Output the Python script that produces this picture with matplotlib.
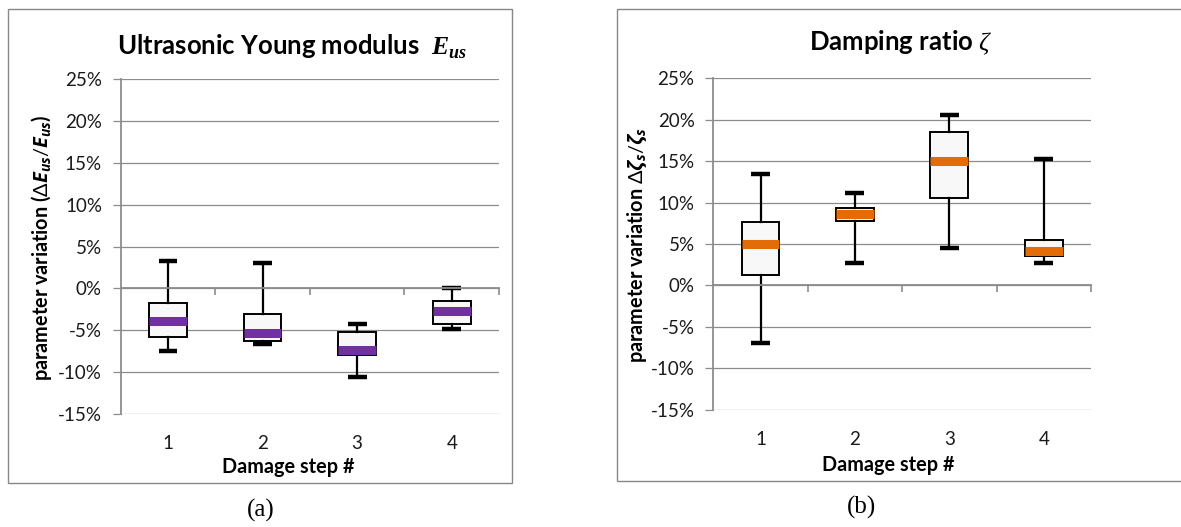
import matplotlib
matplotlib.use("Agg")
import matplotlib.pyplot as plt
from matplotlib.patches import Rectangle
from matplotlib.ticker import FuncFormatter

plt.rcParams['font.family'] = ['Lato', 'DejaVu Sans']
plt.rcParams['mathtext.fontset'] = 'custom'
plt.rcParams['mathtext.it'] = 'Open Sans:italic:bold'
plt.rcParams['mathtext.cal'] = 'Liberation Serif:italic:bold'
plt.rcParams['mathtext.sf'] = 'Liberation Serif:italic'
plt.rcParams['mathtext.rm'] = 'Lato'

# ---- data ----
steps = [1, 2, 3, 4]
step_labels = ['1', '2', '3', '4']
yticks = [-15, -10, -5, 0, 5, 10, 15, 20, 25]

eus_whislo = [-7.45, -6.6, -10.55, -4.9]
eus_q1 = [-5.8, -6.3, -8.0, -4.2]
eus_med = [-3.85, -5.3, -7.4, -2.65]
eus_q3 = [-1.75, -3.1, -5.25, -1.55]
eus_whishi = [3.3, 3.0, -4.25, 0.1]

zeta_whislo = [-6.95, 2.7, 4.5, 2.65]
zeta_q1 = [1.2, 7.8, 10.5, 3.5]
zeta_med = [5.0, 8.6, 15.0, 4.1]
zeta_q3 = [7.7, 9.4, 18.5, 5.5]
zeta_whishi = [13.4, 11.2, 20.6, 15.2]

W, H = 1181, 527
fig = plt.figure(figsize=(W / 100, H / 100), dpi=100)

GRID = '#8c8c8c'
TICKFS = 13.5
LABFS = 14.3
TITLEFS = 18.5


def make_stats(lo, q1, med, q3, hi):
    return [dict(whislo=a, q1=b, med=c, q3=d, whishi=e, fliers=[])
            for a, b, c, d, e in zip(lo, q1, med, q3, hi)]


def draw_panel(rect, stats, medcolor):
    ax = fig.add_axes(rect)
    ax.set_xlim(0.5, 4.5)
    ax.set_ylim(yticks[0], yticks[-1])
    ax.set_yticks(yticks)
    ax.yaxis.set_major_formatter(FuncFormatter(lambda v, p: f"{v:.0f}%"))
    ax.grid(axis='y', color=GRID, linewidth=0.9, zorder=0)
    ax.set_axisbelow(True)
    for s in ['top', 'right']:
        ax.spines[s].set_visible(False)
    ax.spines['left'].set_color(GRID)
    ax.spines['left'].set_linewidth(1.3)
    ax.spines['bottom'].set_position(('data', 0))
    ax.spines['bottom'].set_color(GRID)
    ax.spines['bottom'].set_linewidth(1.3)
    ax.set_xticks([s + 0.5 for s in steps])
    ax.set_xticklabels([])
    ax.tick_params(axis='x', direction='out', length=5, width=1.2, color=GRID)
    ax.tick_params(axis='y', direction='out', length=5.5, width=0.9, color=GRID,
                   labelsize=TICKFS, pad=8, labelcolor='#1a1a1a')
    ax.bxp(stats, positions=steps, widths=0.4, capwidths=0.2, showfliers=False,
           patch_artist=True,
           boxprops=dict(facecolor='#f8f8f8', edgecolor='black', linewidth=1.4),
           whiskerprops=dict(color='black', linewidth=1.6),
           capprops=dict(color='black', linewidth=3.2, solid_capstyle='butt'),
           medianprops=dict(color=medcolor, linewidth=6.5, solid_capstyle='butt'),
           manage_ticks=False)
    sec = ax.secondary_xaxis(0.0)
    sec.set_xticks(steps)
    sec.set_xticklabels(step_labels)
    sec.tick_params(length=0, pad=15, labelsize=TICKFS, labelcolor='#1a1a1a')
    sec.spines['bottom'].set_visible(False)
    return ax


ax1 = draw_panel([120.7 / W, 1 - 414 / H, 378.3 / W, 335 / H],
                 make_stats(eus_whislo, eus_q1, eus_med, eus_q3, eus_whishi), '#7030a0')
ax2 = draw_panel([713.3 / W, 1 - 409.7 / H, 377.7 / W, 331.4 / H],
                 make_stats(zeta_whislo, zeta_q1, zeta_med, zeta_q3, zeta_whishi), '#e36c09')

# frames
fig.patches.append(Rectangle((8 / W, 1 - 483 / H), 504 / W, 474 / H, transform=fig.transFigure,
                             fill=False, edgecolor='#888888', linewidth=1.0))
fig.patches.append(Rectangle((617 / W, 1 - 481 / H), 570 / W, 472 / H, transform=fig.transFigure,
                             fill=False, edgecolor='#888888', linewidth=1.0))

# titles
fig.text(292.5 / W, 1 - 47 / H, r"Ultrasonic Young modulus  $\mathcal{E}_{\mathcal{us}}$",
         ha='center', va='center', fontsize=TITLEFS, fontweight='bold')
fig.text(901 / W, 1 - 43 / H, r"Damping ratio $\mathsf{\zeta}$",
         ha='center', va='center', fontsize=TITLEFS, fontweight='bold')

# y labels
fig.text(42 / W, 1 - 247.5 / H, r"parameter variation ($\mathit{\Delta E_{us}/E_{us}}$)",
         rotation=90, ha='center', va='center', fontsize=LABFS, fontweight='bold')
fig.text(637 / W, 1 - 245 / H, r"parameter variation $\mathit{\Delta\zeta_s/\zeta_s}$",
         rotation=90, ha='center', va='center', fontsize=LABFS, fontweight='bold')

# x labels
fig.text(288 / W, 1 - 467 / H, "Damage step #", ha='center', va='center',
         fontsize=LABFS, fontweight='bold')
fig.text(888 / W, 1 - 465 / H, "Damage step #", ha='center', va='center',
         fontsize=LABFS, fontweight='bold')

# panel letters
fig.text(261 / W, 1 - 510 / H, "(a)", ha='center', va='center', fontsize=18,
         family='Liberation Serif')
fig.text(862 / W, 1 - 507 / H, "(b)", ha='center', va='center', fontsize=18,
         family='Liberation Serif')

fig.savefig("out.png", dpi=100)
